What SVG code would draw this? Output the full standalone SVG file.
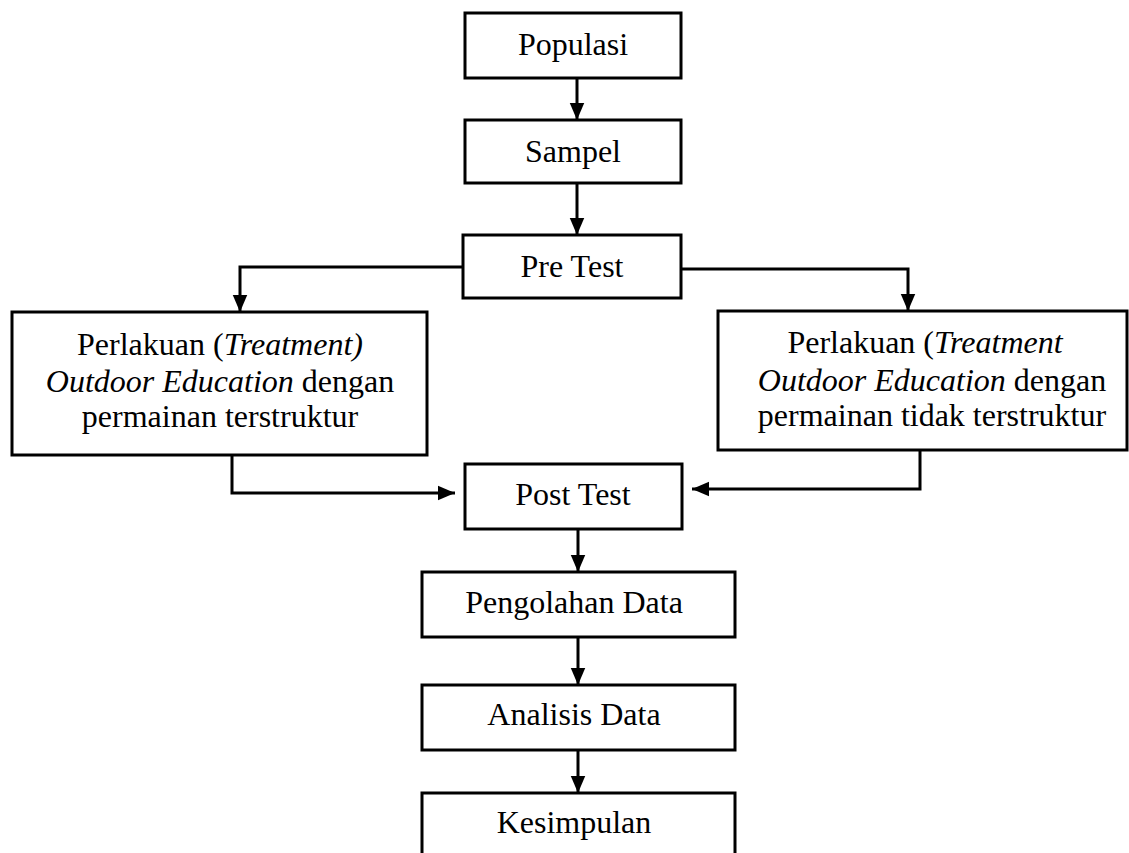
<svg xmlns="http://www.w3.org/2000/svg" width="1129" height="853" viewBox="0 0 1129 853">
<style>
.box{fill:#fff;stroke:#000;stroke-width:3}
.t{font-family:"Liberation Serif","Times New Roman",serif;font-size:32px;fill:#000;text-anchor:middle}
.i{font-style:italic}
.c{fill:none;stroke:#000;stroke-width:3}
</style>
<defs>
<marker id="ah" markerWidth="17" markerHeight="20" refX="20" refY="8.5" viewBox="0 0 20 17" markerUnits="userSpaceOnUse" orient="auto">
<path d="M0,0 L20,8.5 L0,17 Z" fill="#000"/>
</marker>
</defs>
<rect width="1129" height="853" fill="#fff"/>
<g id="connectors">
<path class="c" d="M577,78 V120" marker-end="url(#ah)"/>
<path class="c" d="M577,183 V235" marker-end="url(#ah)"/>
<path class="c" d="M463,267 H240 V312" marker-end="url(#ah)"/>
<path class="c" d="M681,269 H908 V311" marker-end="url(#ah)"/>
<path class="c" d="M232,455 V493 H455" marker-end="url(#ah)"/>
<path class="c" d="M920,450 V489 H692" marker-end="url(#ah)"/>
<path class="c" d="M578,529 V572" marker-end="url(#ah)"/>
<path class="c" d="M578,637 V685" marker-end="url(#ah)"/>
<path class="c" d="M578,750 V793" marker-end="url(#ah)"/>
</g>
<g id="populasi"><rect class="box" x="465" y="13" width="216" height="65"/><text class="t" x="573" y="55">Populasi</text></g>
<g id="sampel"><rect class="box" x="465" y="120" width="216" height="63"/><text class="t" x="573" y="162">Sampel</text></g>
<g id="pretest"><rect class="box" x="463" y="235" width="218" height="63"/><text class="t" x="572" y="277">Pre Test</text></g>
<g id="treatment1"><rect class="box" x="12" y="312" width="415" height="143"/>
<text class="t" x="220" y="355">Perlakuan (<tspan class="i">Treatment)</tspan></text>
<text class="t" x="220" y="392"><tspan class="i">Outdoor Education</tspan> dengan</text>
<text class="t" x="220" y="427">permainan terstruktur</text></g>
<g id="treatment2"><rect class="box" x="718" y="311" width="409" height="139"/>
<text class="t" x="925" y="353">Perlakuan (<tspan class="i">Treatment</tspan></text>
<text class="t" x="932" y="391"><tspan class="i">Outdoor Education</tspan> dengan</text>
<text class="t" x="932" y="426">permainan tidak terstruktur</text></g>
<g id="posttest"><rect class="box" x="465" y="464" width="217" height="65"/><text class="t" x="573" y="505">Post Test</text></g>
<g id="pengolahan"><rect class="box" x="422" y="572" width="313" height="65"/><text class="t" x="574" y="613">Pengolahan Data</text></g>
<g id="analisis"><rect class="box" x="422" y="685" width="313" height="65"/><text class="t" x="574" y="725">Analisis Data</text></g>
<g id="kesimpulan"><rect class="box" x="422" y="793" width="313" height="70"/><text class="t" x="574" y="833">Kesimpulan</text></g>
</svg>
